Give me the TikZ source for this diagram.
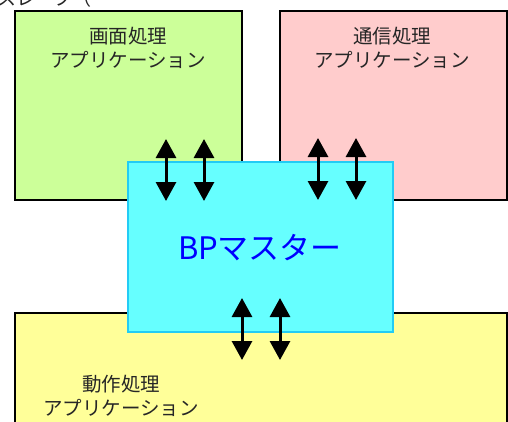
\documentclass[tikz,border=0pt]{standalone}
\usepackage{fontspec}
\newfontfamily\jp{Noto Sans CJK JP}
\usetikzlibrary{arrows.meta}
\definecolor{appgreen}{HTML}{CCFF99}
\definecolor{apppink}{HTML}{FFCCCC}
\definecolor{appyellow}{HTML}{FFFF99}
\definecolor{mastercyan}{HTML}{66FFFF}
\definecolor{masteredge}{HTML}{22CCF5}
\definecolor{masterblue}{HTML}{0000FF}
\tikzset{
  appbox/.style={draw=black, line width=1.5pt},
  apptext/.style={font=\jp\fontsize{19.5}{24.5}\selectfont, align=center, inner sep=0pt, text=black!85},
  link/.style={line width=3pt, {Triangle[width=20pt,length=19pt]}-{Triangle[width=20pt,length=19pt]}}
}
\begin{document}
\begin{tikzpicture}[x=1pt,y=-1pt]
\useasboundingbox (0,0) rectangle (508,421);
\begin{scope}
\clip (0,0) rectangle (508,421);
\node[anchor=south west, inner sep=0pt, font=\jp\fontsize{19}{19}\selectfont, text=black!85] (title) at (-3,8) {スレーブ（};
% application boxes
\path[appbox, fill=appgreen] (15,11) rectangle (242,200);
\path[appbox, fill=apppink] (280,11) rectangle (507,200);
\path[appbox, fill=appyellow] (15,313) rectangle (507,430);
\node[apptext] (screen) at (128,48) {画面処理\\アプリケーション};
\node[apptext] (comm) at (392,48) {通信処理\\アプリケーション};
\node[apptext] (motion) at (121,396) {動作処理\\アプリケーション};
% master box
\path[draw=masteredge, line width=1.5pt, fill=mastercyan] (128,162) rectangle (393,332);
\node[font=\jp\fontsize{31}{31}\selectfont, text=masterblue, inner sep=0pt] (master) at (260,248) {BPマスター};
% links
\coordinate (a1s) at (166,139); \coordinate (a1e) at (166,201);
\coordinate (a2s) at (204,139); \coordinate (a2e) at (204,201);
\coordinate (a3s) at (318,138); \coordinate (a3e) at (318,200);
\coordinate (a4s) at (356,138); \coordinate (a4e) at (356,200);
\coordinate (a5s) at (242,298); \coordinate (a5e) at (242,360);
\coordinate (a6s) at (280,298); \coordinate (a6e) at (280,360);
\draw[link] (a1s) -- (a1e);
\draw[link] (a2s) -- (a2e);
\draw[link] (a3s) -- (a3e);
\draw[link] (a4s) -- (a4e);
\draw[link] (a5s) -- (a5e);
\draw[link] (a6s) -- (a6e);
\end{scope}
\end{tikzpicture}
\end{document}
